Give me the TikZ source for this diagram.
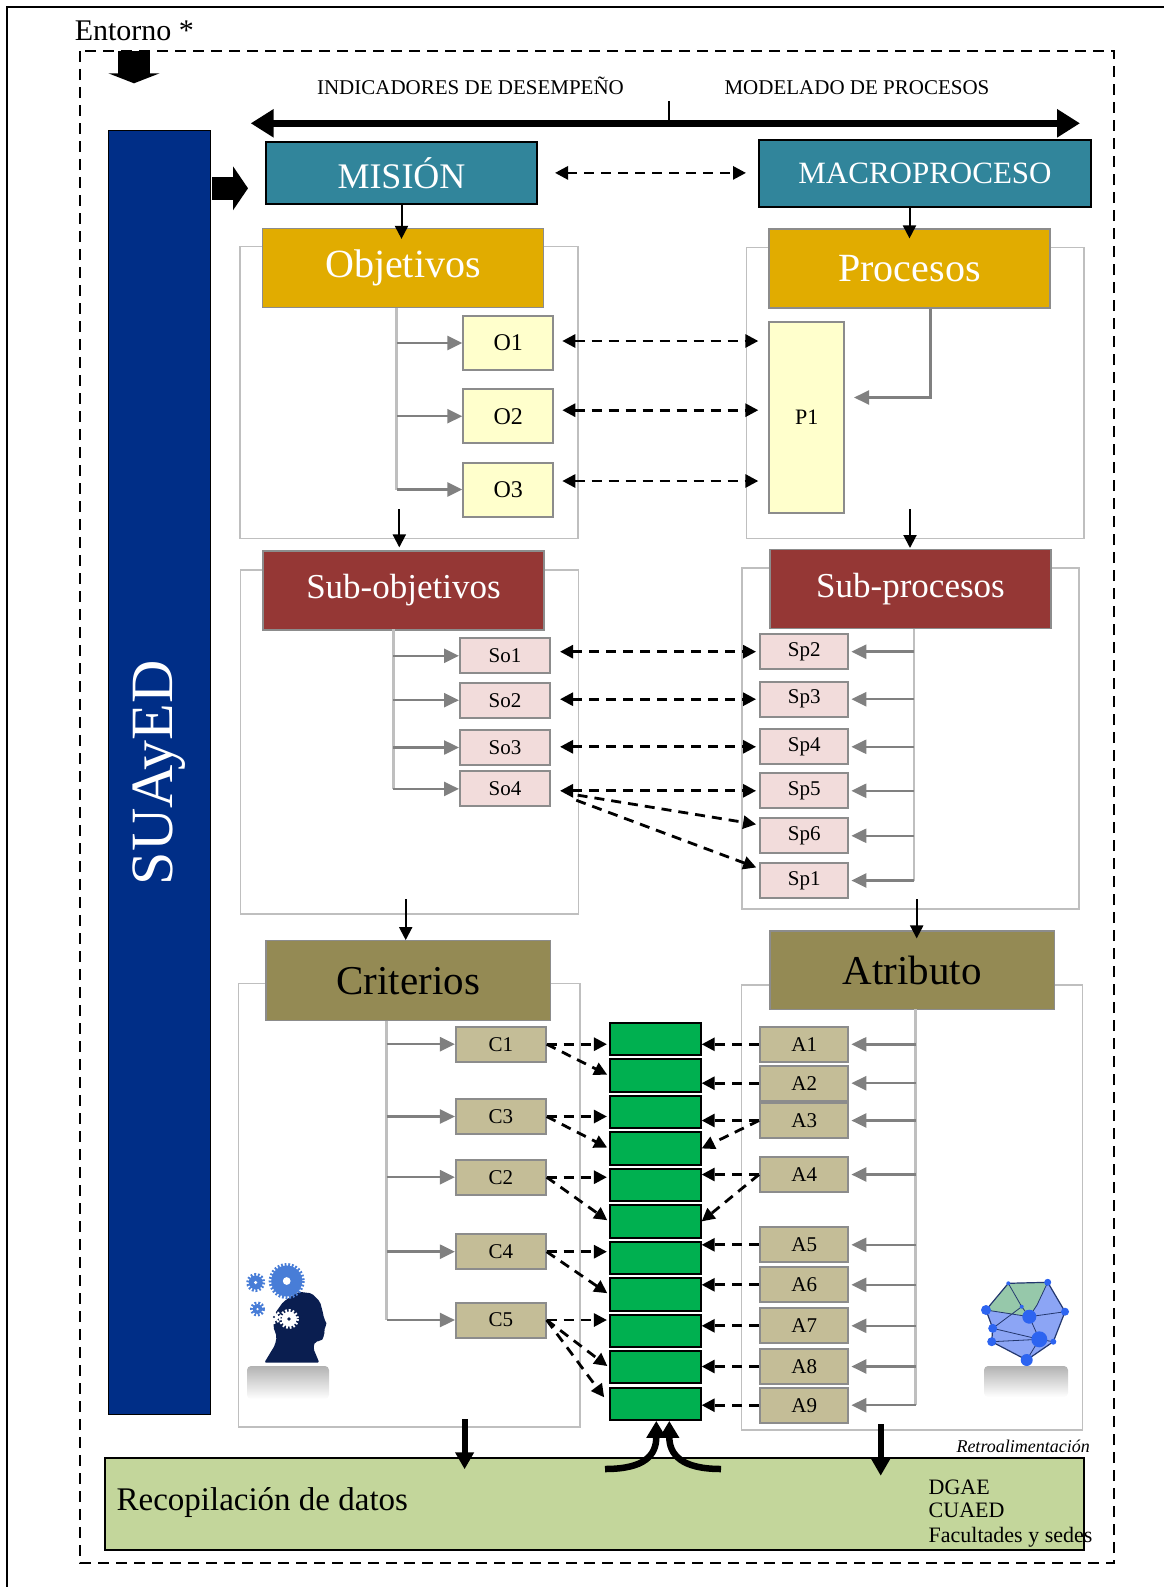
\documentclass[tikz,border=0pt]{standalone}
\usepackage{fontspec}
\setmainfont{Liberation Serif}
\usetikzlibrary{arrows.meta}
\usetikzlibrary{matrix}

\definecolor{suayedblue}{RGB}{0,46,135}
\definecolor{misionteal}{RGB}{49,133,155}
\definecolor{objgold}{RGB}{225,172,0}
\definecolor{subred}{RGB}{149,55,53}
\definecolor{critolive}{RGB}{148,138,84}
\definecolor{itemtan}{RGB}{196,189,151}
\definecolor{itempink}{RGB}{242,220,219}
\definecolor{itemyellow}{RGB}{255,255,204}
\definecolor{cellgreen}{RGB}{0,176,80}
\definecolor{datagreen}{RGB}{195,214,155}
\definecolor{boxgray}{RGB}{140,140,140}
\definecolor{framegray}{RGB}{191,191,191}
\definecolor{arrowgray}{RGB}{128,128,128}
\definecolor{headnavy}{RGB}{10,30,80}
\definecolor{gearblue}{RGB}{72,125,215}
\definecolor{polyblue}{RGB}{140,165,245}
\definecolor{polygreen}{RGB}{150,200,170}
\definecolor{polydot}{RGB}{45,100,240}
\definecolor{polyedge}{RGB}{35,55,110}

\newcommand{\pxfont}[1]{\fontsize{#1}{#1}\selectfont}
\newcommand{\drawgear}[4]{%
  \fill[#3] (#1) circle[radius=#2];
  \draw[#3, line width=3pt, dash pattern=on 1.8pt off 1.8pt] (#1) circle[radius=#2+1];
  \fill[#4] (#1) circle[radius=#2*0.25];
}

\tikzset{
  plainbox/.style={rectangle, inner sep=0pt, anchor=center},
  topbox/.style={plainbox, draw=black, line width=2pt, fill=misionteal, text=white},
  headbox/.style={plainbox, draw=boxgray, line width=1.2pt, minimum width=281pt, minimum height=79pt},
  container/.style={plainbox, draw=framegray, line width=1.5pt},
  itembox/.style={plainbox, draw=boxgray, line width=2pt, font=\pxfont{21}},
  greencell/.style={plainbox, draw=black, line width=2pt, fill=cellgreen, minimum width=90.7pt, minimum height=32.3pt},
  blackarrow/.style={line width=2pt, -{Triangle[length=13pt,width=13pt]}},
  thickarrow/.style={line width=6pt, -{Triangle[length=17pt,width=18pt]}},
  feedarrow/.style={line width=6.5pt, -{Triangle[length=17pt,width=19pt]}},
  grayarrow/.style={arrowgray, line width=2.5pt, -{Triangle[length=15pt,width=14pt]}},
  trunk/.style={framegray, line width=2.5pt},
  dasharrow/.style={line width=2.8pt, dash pattern=on 10pt off 7pt, >={Triangle[length=13pt,width=13pt]}},
}

\begin{document}
\begin{tikzpicture}[x=1pt,y=-1pt]
  \useasboundingbox (0,0) rectangle (1164,1587);
  \draw[line width=2pt] (6.5,1587) -- (6.5,6.7) -- (1164,6.7);
  \draw[line width=2pt, dash pattern=on 11pt off 7pt] (80.4,51) rectangle (1113.8,1563.3);

  \node[anchor=base west, inner sep=0pt, font=\pxfont{30}] (entorno) at (74.6,40.7) {Entorno *};
  \coordinate (entin) at (134,51);
  \coordinate (entout) at (134,83.3);
  \draw[line width=32pt, -{Triangle[length=10pt,width=51pt]}] (entin) -- (entout);

  \node[anchor=base, inner sep=0pt, font=\pxfont{21}] (indic) at (470.5,94.3) {INDICADORES DE DESEMPEÑO};
  \node[anchor=base, inner sep=0pt, font=\pxfont{21}] (model) at (857,94.3) {MODELADO DE PROCESOS};
  \coordinate (axl) at (250.7,123.3);
  \coordinate (axr) at (1080,123.3);
  \coordinate (axtick) at (668.5,101);
  \draw[line width=7pt, {Triangle[length=23pt,width=27pt]}-{Triangle[length=23pt,width=27pt]}] (axl) -- (axr);
  \draw[line width=2pt] (axtick) -- (axtick |- axl);

  \node[plainbox, draw=black, line width=1pt, fill=suayedblue, minimum width=102pt, minimum height=1284.3pt] (suayed) at (159,772.8) {};
  \node[rotate=90, text=white, font=\pxfont{60}] (suayedtxt) at (suayed.center) {SUAyED};
  \coordinate (blkin) at (212,188.3);
  \coordinate (blkout) at (248,188.3);
  \draw[line width=22.6pt, -{Triangle[length=15pt,width=43.3pt]}] (blkin) -- (blkout);

  \node[container, minimum width=338pt, minimum height=291.6pt] (objcont) at (409,392.5) {};
  \node[container, minimum width=337.5pt, minimum height=291pt] (proccont) at (915.3,392.8) {};
  \node[container, minimum width=337.6pt, minimum height=344pt] (subobjcont) at (409.5,742) {};
  \node[container, minimum width=337pt, minimum height=341pt] (subproccont) at (910.5,738.5) {};
  \node[container, minimum width=341.7pt, minimum height=443.7pt] (critcont) at (409.2,1205.2) {};
  \node[container, minimum width=340.7pt, minimum height=445pt] (atribcont) at (912,1207.5) {};

  \node[topbox, minimum width=271pt, minimum height=62.3pt, font=\pxfont{36}] (mision) at (401.5,172.9) {MISIÓN};
  \node[topbox, minimum width=332pt, minimum height=66.4pt, font=\pxfont{31}] (macro) at (925,173.5) {MACROPROCESO};
  \node[headbox, fill=objgold, text=white, font=\pxfont{40}] (obj) at (403,268) {Objetivos};
  \node[headbox, fill=objgold, text=white, font=\pxfont{40}] (proc) at (909.5,268.5) {Procesos};
  \node[headbox, fill=subred, text=white, font=\pxfont{35}] (subobj) at (403.5,590.5) {Sub-objetivos};
  \node[headbox, fill=subred, text=white, font=\pxfont{35}] (subproc) at (910.5,589.1) {Sub-procesos};
  \node[headbox, fill=critolive, font=\pxfont{41}, minimum width=284.5pt, minimum height=80pt] (crit) at (408.3,980.7) {Criterios};
  \node[headbox, fill=critolive, font=\pxfont{41}, minimum width=284.5pt, minimum height=78.3pt] (atrib) at (912.2,970.2) {Atributo};

  \foreach \n/\y in {O1/343,O2/416.2,O3/489.5}
    \node[itembox, fill=itemyellow, minimum width=90pt, minimum height=54pt, font=\pxfont{24}] (\n) at (508.3,\y) {\n};
  \node[itembox, fill=itemyellow, minimum width=74.7pt, minimum height=191.6pt, font=\pxfont{22}] (P1) at (806.7,417.5) {P1};
  \foreach \n/\y in {So1/655.8,So2/700.2,So3/747.5,So4/788.9}
    \node[itembox, fill=itempink, minimum width=90pt, minimum height=35pt] (\n) at (505,\y) {\n};
  \foreach \n/\y in {Sp2/651.7,Sp3/699.2,Sp4/746.8,Sp5/790.8,Sp6/835.8,Sp1/880.5}
    \node[itembox, fill=itempink, minimum width=88.3pt, minimum height=35pt] (\n) at (804.2,\y) {\n};
  \foreach \n/\y in {C1/1044.2,C3/1116.5,C2/1177.2,C4/1251.7,C5/1320}
    \node[itembox, fill=itemtan, minimum width=89.7pt, minimum height=35pt] (\n) at (500.8,\y) {\n};
  \foreach \n/\y in {A1/1044.3,A2/1083.2,A3/1120.5,A4/1174.5,A5/1244.8,A6/1284.8,A7/1325.8,A8/1366.5,A9/1405.2}
    \node[itembox, fill=itemtan, minimum width=88.3pt, minimum height=35pt] (\n) at (804.2,\y) {\n};

  \matrix (G) [matrix of nodes, nodes in empty cells, row sep=2.17pt, inner sep=0pt, anchor=north,
               nodes={greencell}] at (655.3,1021.7)
  {
    \\
    \\
    \\
    \\
    \\
    \\
    \\
    \\
    \\
    \\
    \\
  };

  \coordinate (objtrunk) at (396.7,308);
  \coordinate (subobjtrunk) at (393.3,629.3);
  \coordinate (subproctrunk) at (914,628.6);
  \coordinate (crittrunk) at (386.7,1020.7);
  \coordinate (atribtrunk) at (915.7,1009.3);
  \draw[trunk] (objtrunk) -- (objtrunk |- O3.west);
  \draw[trunk] (subobjtrunk) -- (subobjtrunk |- So4.west);
  \draw[trunk] (subproctrunk) -- (subproctrunk |- Sp1.east);
  \draw[trunk] (crittrunk) -- (crittrunk |- C5.west);
  \draw[trunk] (atribtrunk) -- (atribtrunk |- A9.east);
  \foreach \n in {O1,O2,O3}
    \draw[grayarrow] (objtrunk |- \n.west) -- (\n.west);
  \foreach \n in {So1,So2,So3,So4}
    \draw[grayarrow] (subobjtrunk |- \n.west) -- (\n.west);
  \foreach \n in {Sp2,Sp3,Sp4,Sp5,Sp6,Sp1}
    \draw[grayarrow, shorten >=2pt] (subproctrunk |- \n.east) -- (\n.east);
  \foreach \n in {C1,C3,C2,C4,C5}
    \draw[grayarrow] (crittrunk |- \n.west) -- (\n.west);
  \foreach \n in {A1,A2,A3,A4,A5,A6,A7,A8,A9}
    \draw[grayarrow, shorten >=2pt] (atribtrunk |- \n.east) -- (\n.east);
  \draw[grayarrow] ([xshift=21pt]proc.south) |- ([xshift=9pt,yshift=20pt]P1.east);

  \draw[dasharrow, <->, shorten <=17pt, shorten >=12pt] (mision.east) -- (mision.east -| macro.west);
  \foreach \n/\off in {O1/2,O2/6,O3/8.5}
    \draw[dasharrow, <->, shorten <=8pt, shorten >=10pt] ([yshift=\off]\n.east) -- ([yshift=\off]\n.east -| P1.west);
  \foreach \src/\dst in {So1/Sp2,So2/Sp3,So3/Sp4,So4/Sp5}
    \draw[dasharrow, <->, shorten <=9pt, shorten >=3pt] (\src.east |- \dst.west) -- (\dst.west);
  \draw[dasharrow, ->, shorten <=27pt, shorten >=3pt] (So4.east |- Sp5.west) -- ([yshift=11pt]Sp6.west);
  \draw[dasharrow, ->, shorten <=27pt, shorten >=3pt] (So4.east |- Sp5.west) -- ([yshift=12pt]Sp1.west);

  \foreach \src/\g in {C1/1,C3/3,C2/5,C4/7,C5/9}
    \draw[dasharrow, ->, shorten >=2pt] (\src.east) -- (\src.east -| G-\g-1.west);
  \foreach \src/\g in {C1/2,C3/4,C2/6,C4/8,C5/10}
    \draw[dasharrow, ->, shorten >=2pt] (\src.east) -- (G-\g-1.west);
  \draw[dasharrow, ->, shorten >=8pt] (C5.east) -- (G-11-1.west);
  \foreach \src/\g in {A1/1,A2/2,A3/3,A4/5,A5/7,A6/8,A7/9,A8/10,A9/11}
    \draw[dasharrow, ->] (\src.west) -- (\src.west -| G-\g-1.east);
  \foreach \src/\g in {A3/4,A4/6}
    \draw[dasharrow, ->] (\src.west) -- (G-\g-1.east);

  \draw[blackarrow, shorten >=-11pt] (mision.south) -- (mision.south |- obj.north);
  \draw[blackarrow, shorten >=-10pt] (macro.south -| proc.north) -- (proc.north);
  \coordinate (objout) at (399.3,509.3);
  \coordinate (procout) at (910,509.3);
  \coordinate (subobjout) at (405.7,899);
  \coordinate (subprocout) at (916.7,899);
  \draw[blackarrow, shorten >=3pt] (objout) -- (objout |- subobj.north);
  \draw[blackarrow, shorten >=1pt] (procout) -- (procout |- subproc.north);
  \draw[blackarrow] (subobjout) -- (subobjout |- crit.north);
  \draw[blackarrow, shorten >=-8pt] (subprocout) -- (subprocout |- atrib.north);

  \node[plainbox, draw=black, line width=2pt, fill=datagreen, minimum width=978.2pt, minimum height=92.3pt] (recop) at (594.4,1503.9) {};
  \node[anchor=base west, inner sep=0pt, font=\pxfont{33}] (recoptxt) at (116.4,1510) {Recopilación de datos};
  \node[anchor=base west, inner sep=0pt, font=\pxfont{22}] (dgae) at (928.5,1494.3) {DGAE};
  \node[anchor=base west, inner sep=0pt, font=\pxfont{22}] (cuaed) at (928.5,1517.7) {CUAED};
  \node[anchor=base west, inner sep=0pt, font=\pxfont{22}] (facs) at (928.5,1542.7) {Facultades y sedes};
  \node[anchor=base east, inner sep=0pt, font=\pxfont{18}\itshape] (retro) at (1090,1452.7) {Retroalimentación};

  \coordinate (critout) at (464.6,1419);
  \coordinate (atribout) at (880.7,1424.3);
  \draw[thickarrow, shorten >=-12.5pt] (critout) -- (critout |- recop.north);
  \draw[thickarrow, shorten >=-19pt] (atribout) -- (atribout |- recop.north);
  \coordinate (feedl) at (605,1469);
  \coordinate (feedr) at (721,1469);
  \draw[feedarrow] (feedl) .. controls (645,1469) and (656.3,1455) .. ([xshift=1pt]G-11-1.south);
  \draw[feedarrow] (feedr) .. controls (682,1469) and (669.3,1455) .. ([xshift=14pt]G-11-1.south);

  \shade[top color=black!30, bottom color=white, rounded corners=4pt] (247,1366) rectangle (329,1399);
  \fill[headnavy, rounded corners=2pt] (264.3,1362.7) -- (270,1353.3) -- (275,1345) -- (276.7,1336.7)
    -- (273.3,1326.7) -- (275,1313.3) -- (283.3,1301.7) -- (298.3,1291.7) -- (311.7,1293.3)
    -- (320,1301.7) -- (322.7,1311.7) -- (324,1318.3) -- (327.3,1325) -- (324,1327.3)
    -- (325.3,1331.7) -- (323.3,1334) -- (324,1338.3) -- (320,1341) -- (315,1341.7)
    -- (313.3,1348.3) -- (319.3,1362.7) -- cycle;
  \drawgear{286.7,1281}{15.5}{gearblue}{white}
  \drawgear{255.7,1282.5}{7}{gearblue}{white}
  \drawgear{257.5,1309}{5}{gearblue}{white}
  \drawgear{289,1319}{7.5}{white}{headnavy}
  \drawgear{274,1317}{4.5}{white}{headnavy}

  \shade[top color=black!30, bottom color=white, rounded corners=4pt] (984,1366) rectangle (1068,1397);
  \coordinate (pa) at (1008.3,1283.3);
  \coordinate (pb) at (1047.7,1282.3);
  \coordinate (pc) at (986,1310);
  \coordinate (pd) at (1021.7,1306.7);
  \coordinate (pe) at (1029.3,1316.7);
  \coordinate (pf) at (1065,1311.7);
  \coordinate (pg) at (992.7,1328.3);
  \coordinate (ph) at (991.7,1341.7);
  \coordinate (pi) at (1039.3,1339.3);
  \coordinate (pj) at (1053.3,1341.7);
  \coordinate (pk) at (1026.7,1360);
  \coordinate (pm) at (1037,1305);
  \fill[polyblue] (pc) -- (pa) -- (pb) -- (pf) -- (pj) -- (pk) -- (ph) -- (pg) -- cycle;
  \fill[polygreen] (pc) -- (pa) -- (pb) -- (pm) -- (pe) -- cycle;
  \draw[polyedge, line width=1.2pt, line join=round] (pc) -- (pa) -- (pb) -- (pf) -- (pj) -- (pk) -- (ph) -- (pg) -- cycle;
  \draw[polyedge, line width=0.8pt] (pc) -- (pe) -- (pf) (pb) -- (pm) -- (pe) -- (pi) -- (pk)
    (pg) -- (pi) -- (pj) (ph) -- (pi) (pa) -- (pd) -- (pe) (pd) -- (pg);
  \foreach \p/\r in {pa/2,pb/3.5,pc/5,pd/2,pe/7,pf/4,pg/4.5,ph/4.5,pi/8,pj/3,pk/6}
    \fill[polydot] (\p) circle[radius=\r];
\end{tikzpicture}
\end{document}
